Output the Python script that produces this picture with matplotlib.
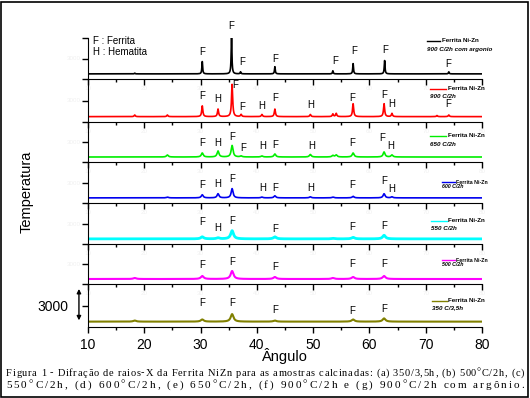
import numpy as np
import matplotlib
matplotlib.use("Agg")
import matplotlib.pyplot as plt
from matplotlib.lines import Line2D
from matplotlib.patches import Rectangle
from matplotlib.font_manager import FontProperties

# Difratogramas da ferrita NiZn (de cima para baixo)
amostras = ["900 C/2h com argonio", "900 C/2h", "650 C/2h", "600 C/2h",
            "550 C/2h", "500 C/2h", "350 C/3,5h"]
cores = ["black", "red", "#00ee00", "#0000ee", "#00ffff", "#ff00ff", "#808000"]

# posicoes (2theta) e intensidades (contagens) dos picos
pos_g = [18.3, 30.3, 35.5, 37.1, 43.2, 53.5, 57.1, 62.7, 74.1]
int_g = [150, 2400, 7200, 400, 1400, 600, 2000, 2600, 400]

pos_f = [18.3, 24.1, 30.3, 33.1, 35.6, 37.2, 40.9, 43.2, 49.5, 53.5, 54.1, 57.1, 62.6, 64.0, 72.0, 74.1]
int_f = [300, 300, 2000, 1400, 6000, 400, 400, 1400, 400, 500, 600, 2400, 2400, 600, 200, 300]

pos_e = [24.1, 30.3, 33.1, 35.6, 37.2, 40.9, 43.2, 49.5, 53.5, 54.1, 57.1, 62.6, 64.0]
int_e = [400, 800, 1200, 2300, 200, 200, 600, 500, 300, 400, 800, 1000, 400]

pos_d = [24.1, 30.3, 33.1, 35.6, 40.9, 43.2, 49.5, 53.5, 57.1, 62.6, 64.0]
int_d = [150, 600, 800, 1800, 150, 400, 200, 150, 300, 800, 200]

pos_c = [30.3, 33.1, 35.6, 43.2, 53.5, 57.1, 62.6]
int_c = [400, 200, 1600, 400, 100, 300, 700]

pos_b = [18.3, 30.3, 35.6, 43.2, 53.5, 57.1, 62.6]
int_b = [200, 600, 1600, 400, 200, 400, 600]

pos_a = [18.3, 30.3, 35.6, 43.2, 57.1, 62.6]
int_a = [200, 400, 1400, 200, 400, 600]

picos = [(pos_g, int_g), (pos_f, int_f), (pos_e, int_e), (pos_d, int_d),
         (pos_c, int_c), (pos_b, int_b), (pos_a, int_a)]

# identificacao das fases: (2theta, fase, altura do rotulo)
rot_g = [(30.3, "F", 4200), (35.5, "F", 9400), (37.4, "F", 2400), (43.3, "F", 3000),
         (53.9, "F", 2600), (57.3, "F", 4400), (62.8, "F", 4600), (74.0, "F", 2000)]
rot_f = [(30.3, "F", 3800), (33.1, "H", 3200), (36.1, "F", 5800), (37.4, "F", 1800),
         (40.9, "H", 2000), (43.3, "F", 3400), (49.6, "H", 2200), (57.0, "F", 3400),
         (62.6, "F", 4000), (64.0, "H", 2400), (74.0, "F", 2400)]
rot_e = [(30.3, "F", 2800), (33.1, "H", 2800), (35.6, "F", 4000), (37.5, "F", 1800),
         (41.1, "H", 2200), (43.2, "F", 2400), (49.8, "H", 2200), (57.0, "F", 2800),
         (62.3, "F", 3800), (63.8, "H", 2200)]
rot_d = [(30.3, "F", 2600), (33.1, "H", 2800), (35.6, "F", 3600), (41.0, "H", 2000),
         (43.2, "F", 2000), (49.6, "H", 2000), (57.0, "F", 2600), (62.6, "F", 3200),
         (64.0, "H", 1800)]
rot_c = [(30.3, "F", 3200), (33.1, "H", 2200), (35.6, "F", 3400), (43.3, "F", 2000),
         (57.0, "F", 2400), (62.6, "F", 2600)]
rot_b = [(30.3, "F", 2800), (35.6, "F", 3400), (43.2, "F", 2400), (57.0, "F", 3000),
         (62.6, "F", 3000)]
rot_a = [(30.3, "F", 3400), (35.6, "F", 3400), (43.2, "F", 2200), (57.0, "F", 2000),
         (62.6, "F", 2400)]
rotulos = [rot_g, rot_f, rot_e, rot_d, rot_c, rot_b, rot_a]

largura = [0.08, 0.12, 0.2, 0.2, 0.3, 0.3, 0.3]
espessura = [1.2, 1.2, 1.2, 1.2, 2.0, 1.5, 1.5]

# posicao dos paineis em pixels (topo, base)
topo = [38, 79, 122, 162, 203, 244, 284]
base = [79, 122, 162, 203, 244, 284, 327]
leg_y = [(41, 49), (89, 96), (136, 144), (182, 187), (221, 228), (260, 265), (301, 308)]
leg_x = [(427, 440), (430, 446), (430, 446), (442, 455), (431, 447), (442, 455), (432, 447)]

W, H = 530, 398
x = np.linspace(10, 80, 3501)
fonte = "Liberation Sans"

fig = plt.figure(figsize=(5.3, 3.98), dpi=100)

for i in range(7):
    ax = fig.add_axes([88 / W, 1 - base[i] / H, (482 - 88) / W, (base[i] - topo[i]) / H])
    ax.patch.set_alpha(0)
    pos, inten = picos[i]
    y = np.zeros_like(x)
    for p, h in zip(pos, inten):
        y += h / (1 + ((x - p) / largura[i]) ** 2)
    ax.plot(x, y, color=cores[i], lw=espessura[i])
    for p, letra, hy in rotulos[i]:
        ax.text(p, hy, letra, ha="center", va="center", fontsize=7,
                family=fonte, clip_on=False)
    ax.set_xlim(10, 80)
    ax.set_ylim(-1000, 7000)
    ax.set_xticks(np.arange(10, 81, 10))
    ax.set_xticks(np.arange(15, 80, 10), minor=True)
    ax.set_yticks([3000, 7000])
    ax.spines["top"].set_visible(False)
    ax.spines["right"].set_visible(False)
    ax.tick_params(direction="out", length=4, width=1)
    ax.tick_params(which="minor", direction="out", length=2.5, width=1)
    if i < 6:
        # rotulos quase invisiveis nos paineis internos
        ax.tick_params(labelsize=4.5, labelcolor="#f0f0f0", pad=1)
        ax.set_yticklabels(["3000", ""])
    else:
        ax.tick_params(axis="x", labelsize=10, pad=4)
        ax.set_yticklabels(["3000", ""], fontsize=10)
        ax.tick_params(axis="y", pad=10)
        ax.annotate("", xy=(-0.023, 0.95), xytext=(-0.023, 0.09),
                    xycoords="axes fraction",
                    arrowprops=dict(arrowstyle="<|-|>", color="black", lw=1,
                                    mutation_scale=6))
    for lab in ax.get_xticklabels() + ax.get_yticklabels():
        lab.set_family(fonte)

    # legenda de cada curva
    (x0, x1), (y0, y1) = leg_x[i], leg_y[i]
    fig.add_artist(Line2D([x0 / W, x1 / W], [1 - y0 / H, 1 - y0 / H],
                          color=cores[i], lw=1))
    fs = 3.8 if i in (3, 5) else 4.5
    fig.text((x1 + 1.5) / W, 1 - y0 / H, "Ferrita Ni-Zn", fontsize=fs, weight="bold",
             va="center", family=fonte)
    fig.text(x0 / W, 1 - y1 / H, amostras[i], fontsize=fs, weight="bold",
             style="italic", va="center", family=fonte)

fig.text(285 / W, 1 - 356 / H, "Ângulo", fontsize=10.5, ha="center", va="center",
         family=fonte)
fig.text(93 / W, 1 - 41 / H, "F : Ferrita", fontsize=7, va="center", family=fonte)
fig.text(93 / W, 1 - 52 / H, "H : Hematita", fontsize=7, va="center", family=fonte)
fig.text(27 / W, 1 - 192 / H, "Temperatura", fontsize=10.5, rotation=90,
         ha="center", va="center", family=fonte)

# legenda da figura, justificada letra a letra
legenda1 = ("Figura 1 - Difração de raios-X da Ferrita NiZn para as amostras "
            "calcinadas: (a) 350/3,5h, (b) 500°C/2h, (c)")
legenda2 = ("550°C/2h, (d) 600°C/2h, (e) 650°C/2h, (f) 900°C/2h e (g) "
            "900°C/2h com argônio.")
r = fig.canvas.get_renderer()


def justificar(texto, ypix, tam, xa=6, xb=524):
    fp = FontProperties(family="Liberation Serif", size=tam)
    larg = [r.get_text_width_height_descent(c, fp, False)[0] for c in texto]
    extra = ((xb - xa) - sum(larg)) / (len(texto) - 1)
    xc = xa
    for c, w in zip(texto, larg):
        fig.text(xc / W, 1 - ypix / H, c, fontproperties=fp, va="center")
        xc += w + extra


justificar(legenda1, 373, 7.5)
justificar(legenda2, 385, 8)

fig.add_artist(Rectangle((1 / W, 1 / H), 527 / W, 395 / H, transform=fig.transFigure,
                         fill=False, edgecolor="black", lw=1.2))

fig.savefig("out.png", dpi=100)
